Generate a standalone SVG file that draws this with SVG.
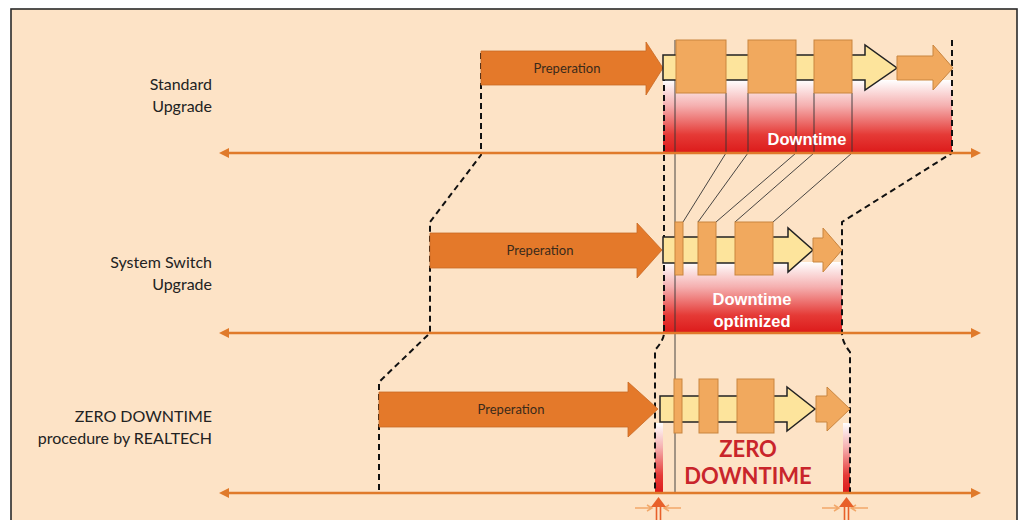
<svg xmlns="http://www.w3.org/2000/svg" width="1021" height="520" viewBox="0 0 1021 520">
<defs>
<linearGradient id="red" x1="0" y1="0" x2="0" y2="1">
<stop offset="0" stop-color="#ffffff"/>
<stop offset="0.35" stop-color="#f5b0b0"/>
<stop offset="0.75" stop-color="#e53a36"/>
<stop offset="1" stop-color="#dc1a1a"/>
</linearGradient>
<marker id="tl" viewBox="0 0 10 10" refX="1" refY="5" markerWidth="4" markerHeight="4" orient="auto-start-reverse" markerUnits="strokeWidth">
<path d="M0,0 L10,5 L0,10 Z" fill="#e07a2a"/>
</marker>
<style>
.tline{stroke:#e07a2a;stroke-width:2.5;fill:none}
.dash{stroke:#111;stroke-width:2;stroke-dasharray:6 4;fill:none}
.thin{stroke:#333;stroke-width:0.9;fill:none}
.prep{fill:#e4792a;stroke:#c86a24;stroke-width:0.8}
.bar{fill:#fde49c;stroke:#222;stroke-width:1.5}
.box{fill:#f1a95e;stroke:#c9853f;stroke-width:1}
.lab{font-family:Lato,"Open Sans",sans-serif;font-size:16px;fill:#222;text-anchor:end}
.ptxt{font-family:Lato,"Open Sans",sans-serif;font-size:13px;fill:#3a2a1a;text-anchor:middle}
.dt{font-family:"Liberation Sans",Arial,sans-serif;font-weight:bold;font-size:16.5px;fill:#ffffff;text-anchor:middle}
.zd{font-family:Lato,"Open Sans",sans-serif;font-weight:bold;font-size:22px;fill:#c9252b;text-anchor:middle}
.sa{stroke:#f2a86a;stroke-width:1.5;fill:none}
</style>
</defs>
<rect x="0" y="0" width="1021" height="520" fill="#ffffff"/>
<rect x="11" y="9" width="1006" height="515" fill="#fde3c6" stroke="#2a2a2a" stroke-width="1.6"/>

<g id="labels">
<text class="lab" x="212" y="90">Standard</text>
<text class="lab" x="212" y="112">Upgrade</text>
<text class="lab" x="212" y="268">System Switch</text>
<text class="lab" x="212" y="290">Upgrade</text>
<text class="lab" x="212" y="422">ZERO DOWNTIME</text>
<text class="lab" x="212" y="444">procedure by REALTECH</text>
</g>

<g id="downtime-areas">
<rect x="663" y="80" width="289" height="73" fill="url(#red)"/>
<rect x="663" y="262" width="179" height="71" fill="url(#red)"/>
<rect x="655" y="423" width="8" height="70" fill="url(#red)"/>
<rect x="843" y="423" width="7" height="70" fill="url(#red)"/>
</g>

<g id="connectors">
<path class="thin" d="M675,40 V493"/>
<path class="thin" d="M726,93 V153 L683,222"/>
<path class="thin" d="M748,93 V153 L698,222"/>
<path class="thin" d="M796,93 V153 L716,222"/>
<path class="thin" d="M814,93 V153 L735,222"/>
<path class="thin" d="M852,93 V153 L773,222"/>
<path class="dash" d="M481,53 V155 L430,222 V333 L379,382 V493"/>
<path class="dash" d="M664,55 V333 Q664,340 655,350 V493"/>
<path class="dash" d="M952,40 V153 L842,222 V333 Q842,342 850,352 V493"/>
<line class="tline" x1="228" y1="153" x2="972" y2="153" marker-start="url(#tl)" marker-end="url(#tl)"/>
<line class="tline" x1="228" y1="333" x2="972" y2="333" marker-start="url(#tl)" marker-end="url(#tl)"/>
<line class="tline" x1="228" y1="493" x2="972" y2="493" marker-start="url(#tl)" marker-end="url(#tl)"/>
</g>

<g id="standard-upgrade">
<path class="prep" d="M481,51 H646 V42 L663,68 L646,95 V85 H481 Z"/>
<text class="ptxt" x="567" y="73">Preperation</text>
<path class="bar" d="M663,55 H865 V45 L897,68 L865,90 V80 H663 Z"/>
<rect class="box" x="676" y="40" width="50" height="53"/>
<rect class="box" x="748" y="40" width="48" height="53"/>
<rect class="box" x="814" y="40" width="38" height="53"/>
<path class="box" d="M897,56 H933 V45 L953,68 L933,90 V80 H897 Z"/>
<text class="dt" x="807" y="145">Downtime</text>
</g>

<g id="system-switch-upgrade">
<path class="prep" d="M430,233 H637 V223 L662,250 L637,278 V268 H430 Z"/>
<text class="ptxt" x="540" y="255">Preperation</text>
<path class="bar" d="M663,237 H788 V228 L813,250 L788,272 V263 H663 Z"/>
<rect class="box" x="675" y="222" width="8" height="53"/>
<rect class="box" x="698" y="222" width="18" height="53"/>
<rect class="box" x="735" y="222" width="38" height="53"/>
<path class="box" d="M813,238 H823 V228 L842,250 L823,272 V262 H813 Z"/>
<text class="dt" x="752" y="305">Downtime</text>
<text class="dt" x="752" y="327">optimized</text>
</g>

<g id="zero-downtime">
<path class="prep" d="M379,392 H628 V382 L658,409 L628,437 V427 H379 Z"/>
<text class="ptxt" x="511" y="414">Preperation</text>
<path class="bar" d="M660,396 H787 V387 L815,409 L787,431 V422 H660 Z"/>
<rect class="box" x="674" y="379" width="8" height="54"/>
<rect class="box" x="699" y="379" width="19" height="54"/>
<rect class="box" x="737" y="379" width="37" height="54"/>
<path class="box" d="M816,396 H827 V387 L850,409 L827,431 V422 H816 Z"/>
<text class="zd" x="748" y="457">ZERO</text>
<text class="zd" x="748" y="484">DOWNTIME</text>
</g>

<g id="bottom-arrows">
<path class="sa" d="M635,508 H651 M647,505 L652,508 L647,511"/>
<path class="sa" d="M681,508 H665 M669,505 L664,508 L669,511"/>
<path d="M656.5,520 V506 M660.5,520 V506" stroke="#e8602a" stroke-width="1.6" fill="none"/>
<path d="M651,507 L658.5,497 L666,507 Z" fill="#e8602a"/>
<path class="sa" d="M822,508 H838 M834,505 L839,508 L834,511"/>
<path class="sa" d="M868,508 H852 M856,505 L851,508 L856,511"/>
<path d="M844.5,520 V506 M848.5,520 V506" stroke="#e8602a" stroke-width="1.6" fill="none"/>
<path d="M839,507 L846.5,497 L854,507 Z" fill="#e8602a"/>
</g>
</svg>
